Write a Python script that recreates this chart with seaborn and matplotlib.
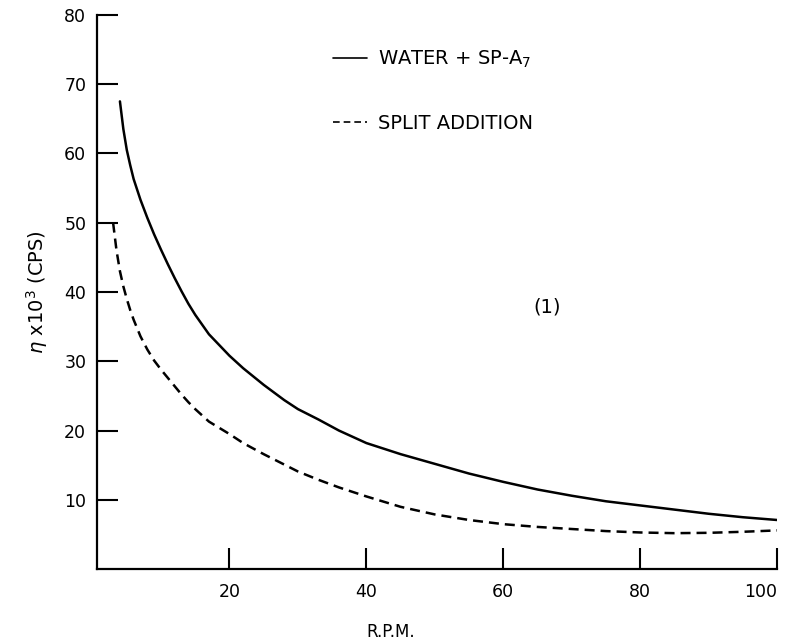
import matplotlib
matplotlib.use("Agg")
import matplotlib.pyplot as plt
import seaborn as sns

# Viscosity curves
rpm_water = [4, 4.5, 5, 5.5, 6, 7, 8, 9, 10, 11, 12, 13, 14, 15, 17, 20, 22, 25, 28,
             30, 33, 36, 40, 45, 50, 55, 60, 65, 70, 75, 80, 85, 90, 95, 100]
visc_water = [67.5, 63.5, 60.5, 58.3, 56.3, 53.3, 50.7, 48.3, 46.1, 44.0, 42.0, 40.1,
              38.3, 36.7, 33.9, 30.8, 29.0, 26.6, 24.4, 23.1, 21.6, 20.0, 18.2, 16.6,
              15.2, 13.8, 12.6, 11.5, 10.6, 9.8, 9.2, 8.6, 8.0, 7.5, 7.1]

rpm_split = [3, 3.5, 4, 4.5, 5, 5.5, 6, 7, 8, 9, 10, 11, 12, 13, 14, 15, 17, 20, 22,
             25, 28, 30, 33, 36, 40, 45, 50, 55, 60, 65, 70, 75, 80, 85, 90, 95, 100]
visc_split = [50.0, 46.0, 43.0, 40.8, 39.0, 37.4, 36.0, 33.6, 31.7, 30.1, 28.8, 27.6,
              26.4, 25.2, 24.1, 23.1, 21.3, 19.5, 18.2, 16.6, 15.1, 14.1, 12.9, 11.8,
              10.5, 9.0, 7.9, 7.1, 6.5, 6.1, 5.8, 5.5, 5.3, 5.2, 5.25, 5.4, 5.6]

x_ticks = [20, 40, 60, 80, 100]
y_ticks = [10, 20, 30, 40, 50, 60, 70, 80]

sns.set_style("ticks")
plt.rcParams['font.family'] = ['DejaVu Sans']
plt.rcParams['text.color'] = 'black'
plt.rcParams['axes.labelcolor'] = 'black'

fig = plt.figure(figsize=(7.85, 6.41), dpi=100)
ax = fig.add_axes([0.124, 0.112, 0.866, 0.865])

sns.lineplot(x=rpm_water, y=visc_water, color='black', linewidth=1.8,
             ax=ax, label='WATER + SP-A$_7$')
sns.lineplot(x=rpm_split, y=visc_split, color='black', linewidth=1.8,
             linestyle=(0, (4, 2.4)), ax=ax, label='SPLIT ADDITION')

ax.set_xlim(0.7, 100)
ax.set_ylim(0, 80)
ax.set_xticks(x_ticks)
ax.set_yticks(y_ticks)
ax.tick_params(axis='both', direction='in', length=15, width=1.5,
               labelsize=12.5, color='black', labelcolor='black')
ax.tick_params(axis='x', pad=10)
ax.tick_params(axis='y', pad=8)
# last x label sits left of its tick, as in the scan
ax.get_xticklabels()[-1].set_horizontalalignment('right')

sns.despine(ax=ax)
for side in ['left', 'bottom']:
    ax.spines[side].set_linewidth(1.6)
    ax.spines[side].set_color('black')

ax.set_ylabel(r'$\eta$ x10$^3$ (CPS)', fontsize=14)
ax.yaxis.set_label_coords(-0.07, 0.5)
ax.set_xlabel('R.P.M.', fontsize=12)
ax.xaxis.set_label_coords(0.431, -0.097)

ax.text(66.4, 37.8, '(1)', fontsize=14, ha='center', va='center')

leg = ax.legend(loc='upper left', bbox_to_anchor=(0.346, 0.938), frameon=False,
                fontsize=14, handlelength=1.75, handletextpad=0.6,
                labelspacing=2.25, borderaxespad=0, borderpad=0, labelcolor='black')
for line in leg.get_lines():
    line.set_linewidth(1.2)

fig.savefig('out.png', dpi=100)
